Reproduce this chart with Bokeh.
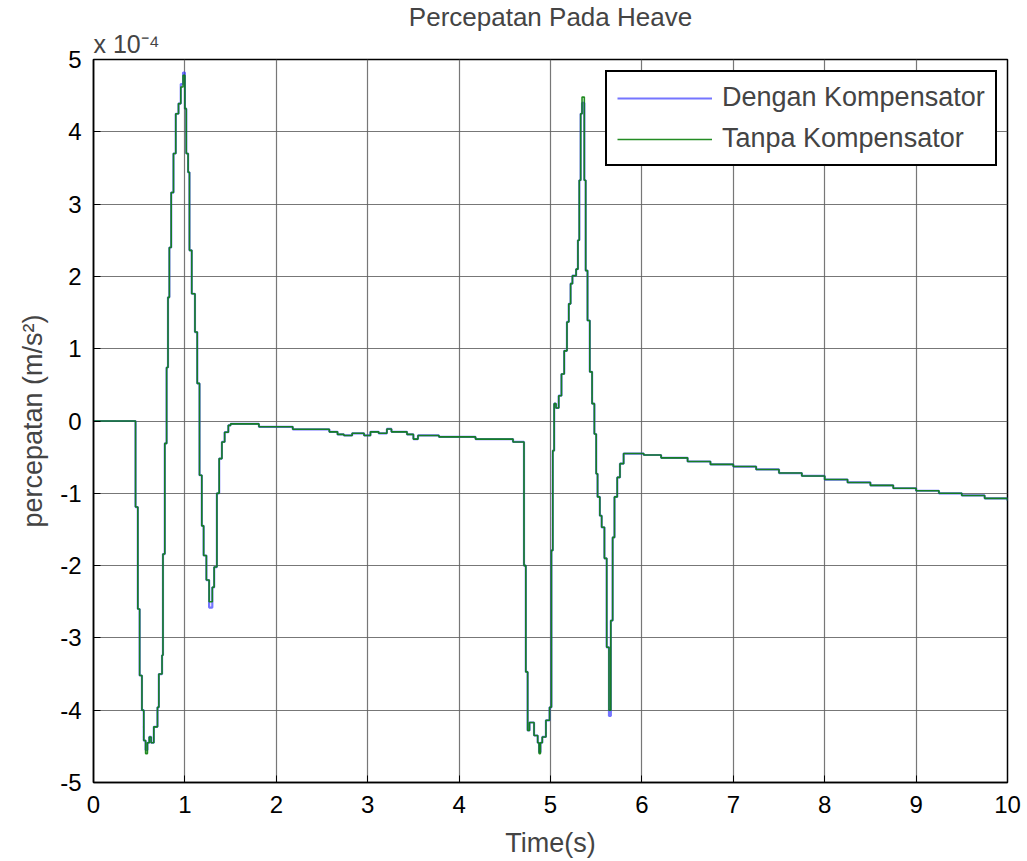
from bokeh.plotting import figure
from bokeh.models import (Range1d, FixedTicker, Legend, LegendItem, Title,
                          PrintfTickFormatter)
from bokeh.embed import file_html
from bokeh.resources import INLINE

# ---- data (acceleration in units of 1e-4 m/s^2) ----
time_s = [0.00, 0.46, 0.485, 0.505, 0.53, 0.55, 0.57, 0.59, 0.61, 0.63, 0.66, 0.70, 0.715, 0.75, 0.76,
          0.78, 0.80, 0.815, 0.83, 0.85, 0.875, 0.90, 0.93, 0.955, 0.98, 1.00, 1.015, 1.035, 1.05, 1.075,
          1.11, 1.135, 1.16, 1.185, 1.205, 1.235, 1.265, 1.30, 1.32, 1.35, 1.375, 1.405, 1.435, 1.475,
          1.50, 1.81, 2.18, 2.58, 2.67, 2.74, 2.83, 2.96, 3.03, 3.12, 3.21, 3.26, 3.43, 3.50, 3.55, 3.78,
          4.18, 4.59, 4.71, 4.73, 4.75, 4.77, 4.82, 4.86, 4.875, 4.89, 4.91, 4.95, 4.99, 5.01, 5.025,
          5.04, 5.06, 5.09, 5.12, 5.15, 5.18, 5.20, 5.22, 5.24, 5.28, 5.30, 5.315, 5.33, 5.345, 5.37,
          5.385, 5.405, 5.43, 5.455, 5.48, 5.50, 5.515, 5.54, 5.56, 5.59, 5.615, 5.64, 5.66, 5.68, 5.70,
          5.73, 5.76, 5.80, 6.02, 6.21, 6.5, 6.75, 7.0, 7.25, 7.5, 7.75, 8.0, 8.25, 8.5, 8.75, 9.0,
          9.25, 9.5, 9.75, 10.0]

tanpa_kompensator = [0.0, -1.19, -2.6, -3.52, -4.0, -4.42, -4.6, -4.45, -4.37, -4.45, -4.23, -3.96, -3.5, -3.24, -1.84,
                     -0.31, 0.74, 1.71, 2.40, 3.16, 3.70, 4.25, 4.39, 4.62, 4.78, 4.32, 3.70, 3.44, 2.36, 1.76,
                     1.23, 0.52, -0.75, -1.45, -1.86, -2.2, -2.5, -2.3, -2.02, -1.0, -0.52, -0.29, -0.155, -0.06,
                     -0.04, -0.08, -0.115, -0.15, -0.185, -0.20, -0.17, -0.20, -0.15, -0.17, -0.11, -0.15, -0.185, -0.25, -0.20, -0.22,
                     -0.25, -0.29, -2.0, -3.47, -4.28, -4.17, -4.35, -4.45, -4.6, -4.45, -4.37, -4.14, -3.96, -1.79, -0.41,
                     0.24, 0.18, 0.35, 0.65, 0.97, 1.37, 1.62, 1.9, 2.01, 2.1, 2.50, 3.33, 4.25, 4.48, 3.33,
                     2.08, 1.39, 0.68, 0.24, -0.18, -0.73, -1.05, -1.31, -1.47, -1.9, -3.13, -4.0, -2.76, -1.61, -1.05,
                     -0.78, -0.59, -0.45, -0.47, -0.51, -0.56, -0.60, -0.63, -0.67, -0.72, -0.76, -0.81, -0.85, -0.89, -0.93, -0.965,
                     -1.0, -1.03, -1.07, -1.10]

dengan_kompensator = [0.0, -1.19, -2.6, -3.52, -4.0, -4.42, -4.55, -4.45, -4.37, -4.45, -4.23, -3.96, -3.5, -3.24, -1.84,
                      -0.31, 0.74, 1.71, 2.40, 3.16, 3.70, 4.25, 4.39, 4.66, 4.82, 4.32, 3.70, 3.44, 2.36, 1.76,
                      1.23, 0.52, -0.75, -1.45, -1.86, -2.2, -2.58, -2.3, -2.02, -1.0, -0.52, -0.29, -0.155, -0.06,
                      -0.04, -0.08, -0.115, -0.15, -0.185, -0.20, -0.17, -0.20, -0.15, -0.17, -0.11, -0.15, -0.185, -0.25, -0.20, -0.22,
                      -0.25, -0.29, -2.0, -3.47, -4.28, -4.17, -4.35, -4.45, -4.58, -4.45, -4.37, -4.14, -3.96, -1.79, -0.41,
                      0.24, 0.18, 0.35, 0.65, 0.97, 1.37, 1.62, 1.9, 2.01, 2.1, 2.50, 3.33, 4.25, 4.40, 3.33,
                      2.08, 1.39, 0.68, 0.24, -0.18, -0.73, -1.05, -1.31, -1.47, -1.9, -3.13, -4.08, -2.76, -1.61, -1.05,
                      -0.78, -0.59, -0.45, -0.47, -0.51, -0.56, -0.60, -0.63, -0.67, -0.72, -0.76, -0.81, -0.85, -0.89, -0.93, -0.965,
                      -1.0, -1.03, -1.07, -1.10]

x_ticks = [0, 1, 2, 3, 4, 5, 6, 7, 8, 9, 10]
y_ticks = [-5, -4, -3, -2, -1, 0, 1, 2, 3, 4, 5]

FONT = "Liberation Sans"

p = figure(width=1027, height=861, output_backend="svg", toolbar_location=None,
           x_range=Range1d(0, 10), y_range=Range1d(-5, 5),
           min_border_left=93, min_border_right=20, min_border_top=59, min_border_bottom=79)
p.background_fill_color = "white"
p.border_fill_color = "white"
p.outline_line_color = "black"
p.outline_line_width = 1.5

# scale factor label (closest to frame) and main title (above it)
exp_title = Title(text="x 10⁻⁴", align="left", text_font=FONT, text_font_size="25px",
                  text_font_style="normal", standoff=4)
p.add_layout(exp_title, "above")
main_title = Title(text="Percepatan Pada Heave", align="center", text_font=FONT,
                   text_font_size="26px", text_font_style="normal", standoff=-12)
p.add_layout(main_title, "above")

for ax in (p.xaxis[0], p.yaxis[0]):
    ax.major_tick_in = 7
    ax.major_tick_out = 0
    ax.minor_tick_line_color = None
    ax.axis_line_color = "black"
    ax.axis_line_width = 1.5
    ax.major_label_text_font = FONT
    ax.major_label_text_font_size = "24px"
    ax.major_label_text_color = "black"
    ax.axis_label_text_font = FONT
    ax.axis_label_text_font_size = "27px"
    ax.axis_label_text_font_style = "normal"
    ax.formatter = PrintfTickFormatter(format="%d")

p.xaxis.ticker = FixedTicker(ticks=x_ticks)
p.yaxis.ticker = FixedTicker(ticks=y_ticks)
p.xaxis.axis_label = "Time(s)"
p.yaxis.axis_label = "percepatan (m/s²)"
p.xaxis.major_label_standoff = 13
p.yaxis.major_label_standoff = 12
p.xaxis.axis_label_standoff = 12
p.yaxis.axis_label_standoff = 9

p.xgrid.ticker = FixedTicker(ticks=x_ticks)
p.ygrid.ticker = FixedTicker(ticks=y_ticks)
p.grid.grid_line_color = "#5f5f5f"
p.grid.grid_line_width = 1.2
p.grid.grid_line_alpha = 0.85

r_blue = p.step(time_s, dengan_kompensator, mode="after", line_color="#3a3aff", line_width=2.2,
                line_alpha=0.7)
r_green = p.step(time_s, tanpa_kompensator, mode="after", line_color="#0b7f0b", line_width=1.6,
                 line_alpha=0.9)

legend = Legend(items=[LegendItem(label="Dengan Kompensator", renderers=[r_blue]),
                       LegendItem(label="Tanpa Kompensator", renderers=[r_green])],
                location=(512, 616))
legend.label_text_font = FONT
legend.label_text_font_size = "27px"
legend.border_line_color = "black"
legend.border_line_alpha = 1.0
legend.border_line_width = 2
legend.padding = 10
legend.spacing = 10
legend.glyph_width = 95
legend.glyph_height = 30
legend.label_height = 30
legend.label_standoff = 10
legend.background_fill_alpha = 1
p.add_layout(legend, "center")

open("out.html", "w").write(file_html(p, INLINE))
